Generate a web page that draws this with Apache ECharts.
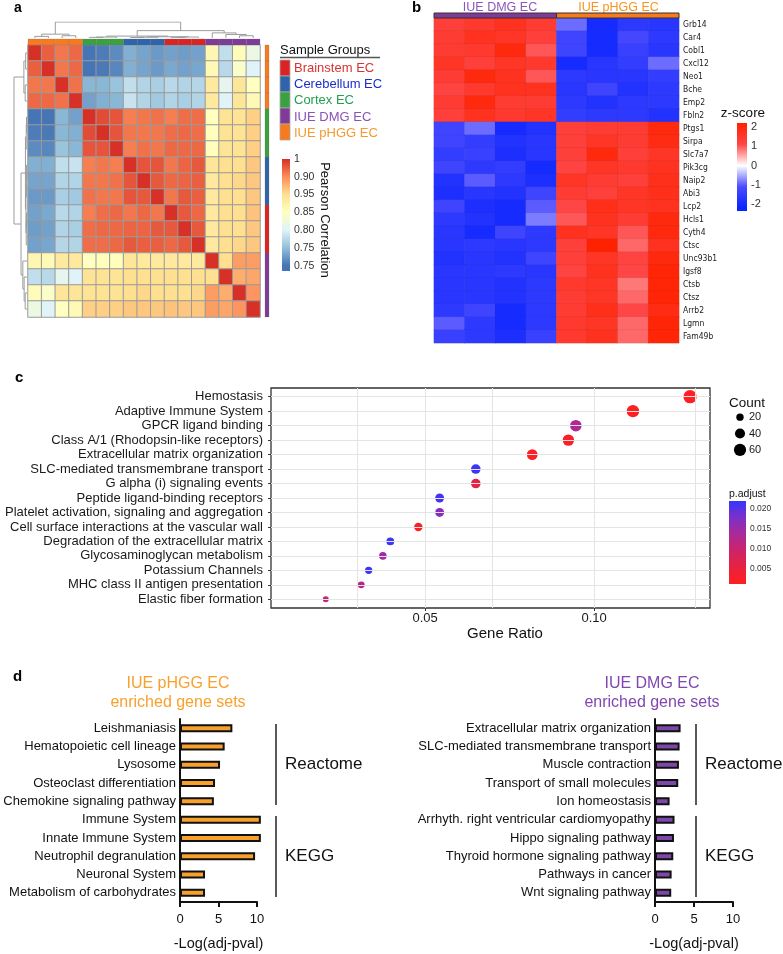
<!DOCTYPE html>
<html>
<head>
<meta charset="utf-8" />
<title>Endothelial cell profiles</title>
<script src="https://cdn.jsdelivr.net/npm/echarts@6.0.0/dist/echarts.min.js"></script>
<style>html, body { margin: 0; padding: 0; background: #fff; }</style>
</head>
<body>
<div id="main" style="width: 783px;height: 954px;"></div>
<script type="text/javascript">
const FONT = "'Liberation Sans', Arial, Helvetica, sans-serif";
const NARROW = "'Liberation Sans Narrow', 'DejaVu Sans Condensed', 'Liberation Sans', sans-serif";

// ---- panel a : sample correlation ----
const sampleGroup = [4, 4, 4, 4, 2, 2, 2, 1, 1, 1, 0, 0, 0, 3, 3, 3, 3];
const groupNames = ['Brainstem EC', 'Cerebellum EC', 'Cortex EC', 'IUE DMG EC', 'IUE pHGG EC'];
// upper triangle, row i starts at the diagonal
const corrUpper = [
    [1, 0.975, 0.962, 0.97, 0.70, 0.705, 0.715, 0.74, 0.732, 0.725, 0.73, 0.727, 0.73, 0.865, 0.78, 0.855, 0.82],
    [1, 0.962, 0.97, 0.70, 0.703, 0.712, 0.74, 0.732, 0.725, 0.735, 0.73, 0.733, 0.86, 0.775, 0.84, 0.80],
    [1, 0.965, 0.745, 0.745, 0.755, 0.78, 0.77, 0.765, 0.775, 0.77, 0.772, 0.885, 0.81, 0.89, 0.85],
    [1, 0.73, 0.74, 0.745, 0.785, 0.77, 0.76, 0.77, 0.765, 0.77, 0.885, 0.80, 0.89, 0.86],
    [1, 0.985, 0.98, 0.958, 0.962, 0.965, 0.958, 0.967, 0.967, 0.85, 0.895, 0.895, 0.91],
    [1, 0.98, 0.962, 0.962, 0.962, 0.967, 0.97, 0.967, 0.852, 0.895, 0.895, 0.91],
    [1, 0.958, 0.965, 0.962, 0.97, 0.97, 0.97, 0.852, 0.893, 0.895, 0.91],
    [1, 0.98, 0.98, 0.962, 0.972, 0.978, 0.89, 0.90, 0.90, 0.915],
    [1, 0.978, 0.97, 0.972, 0.975, 0.885, 0.90, 0.905, 0.915],
    [1, 0.962, 0.978, 0.975, 0.885, 0.90, 0.90, 0.915],
    [1, 0.978, 0.97, 0.885, 0.90, 0.90, 0.918],
    [1, 0.978, 0.885, 0.90, 0.90, 0.915],
    [1, 0.885, 0.90, 0.905, 0.915],
    [1, 0.90, 0.94, 0.94],
    [1, 0.93, 0.935],
    [1, 0.945],
    [1]
];
const corrTicks = [0.70, 0.75, 0.80, 0.85, 0.90, 0.95, 1.0];
const corrTickText = ['0.75', '0.75', '0.80', '0.85', '0.95', '0.90', '1'];
// [left, right, height], leaves are sample indices
const dendroTree = [
    [[0, 1, 0.10], [2, 3, 0.14], 0.24],
    [
        [[[4, 5, 0.04], 6, 0.06], [[[7, 8, 0.03], 9, 0.05], [[10, 11, 0.04], 12, 0.06], 0.08], 0.12],
        [13, [14, [15, 16, 0.14], 0.22], 0.32],
        0.46
    ],
    1.0
];

// ---- panel b : z-score heatmap ----
const bColumns = ['DMG1', 'DMG2', 'DMG3', 'DMG4', 'pHGG1', 'pHGG2', 'pHGG3', 'pHGG4'];
const geneNames = ['Grb14', 'Car4', 'Cobl1', 'Cxcl12', 'Neo1', 'Bche', 'Emp2', 'Fbln2', 'Ptgs1', 'Sirpa', 'Slc7a7', 'Pik3cg',
    'Naip2', 'Abi3', 'Lcp2', 'Hcls1', 'Cyth4', 'Ctsc', 'Unc93b1', 'Igsf8', 'Ctsb', 'Ctsz', 'Arrb2', 'Lgmn', 'Fam49b'];
const zScores = [
    [1.3, 1.5, 1.7, 1.4, -0.9, -2.0, -1.6, -1.7],
    [1.4, 1.7, 1.6, 1.3, -1.3, -2.0, -1.2, -1.6],
    [1.4, 1.5, 2.0, 1.0, -1.3, -2.0, -1.4, -1.7],
    [1.6, 1.3, 1.6, 1.5, -2.0, -1.7, -1.5, -0.9],
    [1.4, 2.0, 1.7, 1.0, -1.6, -1.7, -1.7, -1.5],
    [1.2, 1.5, 1.7, 1.7, -1.7, -1.3, -1.8, -1.6],
    [1.4, 2.0, 1.4, 1.4, -1.6, -1.8, -1.6, -1.6],
    [1.3, 1.7, 1.5, 1.6, -1.5, -1.6, -1.6, -1.8],
    [-1.3, -0.9, -2.0, -1.8, 1.3, 1.4, 1.4, 2.0],
    [-1.3, -1.5, -1.8, -1.7, 1.3, 1.6, 1.4, 1.9],
    [-1.5, -1.4, -1.9, -1.7, 1.3, 2.0, 1.3, 1.6],
    [-1.3, -1.6, -1.5, -2.0, 1.2, 1.6, 1.5, 1.7],
    [-1.8, -1.0, -1.6, -1.9, 1.6, 1.4, 1.3, 1.8],
    [-1.9, -1.7, -1.8, -1.3, 1.4, 1.3, 1.6, 1.8],
    [-1.3, -1.9, -2.0, -1.0, 1.1, 1.8, 1.6, 1.7],
    [-1.6, -1.8, -2.0, -0.8, 1.0, 1.7, 1.4, 2.0],
    [-1.7, -2.0, -1.3, -1.6, 1.7, 1.6, 1.0, 2.0],
    [-1.7, -1.6, -1.7, -1.6, 1.3, 2.2, 0.9, 1.7],
    [-1.8, -1.7, -1.8, -1.3, 1.3, 1.6, 1.2, 2.0],
    [-1.7, -1.7, -1.6, -1.7, 1.2, 1.7, 1.1, 2.1],
    [-1.7, -1.7, -1.8, -1.6, 1.5, 1.6, 0.8, 2.1],
    [-1.7, -1.7, -1.8, -1.6, 1.4, 1.6, 0.9, 2.1],
    [-1.6, -1.3, -2.0, -1.6, 1.4, 1.8, 1.1, 1.9],
    [-1.0, -1.6, -2.0, -1.6, 1.5, 1.6, 0.9, 2.1],
    [-1.4, -1.6, -1.9, -1.4, 1.5, 1.7, 0.9, 2.1]
];
const zTicks = [-2, -1, 0, 1, 2];

// ---- panel c : enrichment dot plot ----
const pathways = ['Hemostasis', 'Adaptive Immune System', 'GPCR ligand binding', 'Class A/1 (Rhodopsin-like receptors)',
    'Extracellular matrix organization', 'SLC-mediated transmembrane transport', 'G alpha (i) signaling events',
    'Peptide ligand-binding receptors', 'Platelet activation, signaling and aggregation',
    'Cell surface interactions at the vascular wall', 'Degradation of the extracellular matrix',
    'Glycosaminoglycan metabolism', 'Potassium Channels', 'MHC class II antigen presentation', 'Elastic fiber formation'];
const geneRatio = [0.1284, 0.1115, 0.0946, 0.0924, 0.0817, 0.0650, 0.0650, 0.0543, 0.0543, 0.0480, 0.0397, 0.0375, 0.0333, 0.0311, 0.0206];
const geneCount = [72, 62, 53, 52, 46, 36, 36, 30, 30, 27, 22, 21, 19, 17, 12];
const pAdjust = [0.0015, 0.0018, 0.0133, 0.0022, 0.0016, 0.0215, 0.0058, 0.0212, 0.0168, 0.0020, 0.0214, 0.0146, 0.0216, 0.0123, 0.0106];
const ratioTicks = [0.05, 0.10];
const ratioGrid = [0.025, 0.05, 0.075, 0.10, 0.125];
const padjTicks = [0.005, 0.010, 0.015, 0.020];
const countLevels = [20, 40, 60];

// ---- panel d : enriched gene sets ----
const pheggTerms = ['Leishmaniasis', 'Hematopoietic cell lineage', 'Lysosome', 'Osteoclast differentiation', 'Chemokine signaling pathway',
    'Immune System', 'Innate Immune System', 'Neutrophil degranulation', 'Neuronal System', 'Metabolism of carbohydrates'];
const pheggScore = [6.8, 5.8, 5.2, 4.55, 4.4, 10.5, 10.5, 9.75, 3.25, 3.25];
const dmgTerms = ['Extracellular matrix organization', 'SLC-mediated transmembrane transport', 'Muscle contraction',
    'Transport of small molecules', 'Ion homeostasis', 'Arrhyth. right ventricular cardiomyopathy', 'Hippo signaling pathway',
    'Thyroid hormone signaling pathway', 'Pathways in cancer', 'Wnt signaling pathway'];
const dmgScore = [3.28, 3.15, 3.07, 2.98, 1.87, 2.5, 2.43, 2.34, 2.13, 2.08];

// ---- styles ----
const groupColors = ['#dc2323', '#2f63aa', '#3ba03f', '#7e3b98', '#f77a1e'];
const groupTextColors = ['#d93232', '#1c2ccb', '#22a052', '#8b52b8', '#f59a30'];
const corrPalette = ['#4575b4', '#91bfdb', '#e0f3f8', '#ffffbf', '#fee090', '#fc8d59', '#d73027'];
const zPalette = ['#0a24ff', '#4b4bff', '#ffffff', '#ff4646', '#ff2200'];
const padjPalette = ['#ff2020', '#e8223e', '#cc2468', '#aa2a98', '#7c30c8', '#3535ff'];
const PHGG_ORANGE = '#f7a12c';
const DMG_PURPLE = '#7d46a9';

const myChart = echarts.init(document.getElementById('main'));

const corrAt = (i, j) => (i <= j ? corrUpper[i][j - i] : corrUpper[j][i - j]);
const corrData = [];
sampleGroup.forEach((g, i) => {
    sampleGroup.forEach((h, j) => corrData.push([j, i, corrAt(i, j)]));
});
const sampleIds = sampleGroup.map((g, i) => 'S' + (i + 1));

const zData = [];
zScores.forEach((row, r) => row.forEach((v, c) => zData.push([c, r, v])));

// dendrogram -> U shaped segments [pos, height]
function dendroSegments(node, out) {
    if (typeof node === 'number') return { pos: node, h: 0 };
    const l = dendroSegments(node[0], out);
    const r = dendroSegments(node[1], out);
    const h = node[2];
    out.push([[l.pos, l.h], [l.pos, h], [r.pos, h], [r.pos, r.h]]);
    return { pos: (l.pos + r.pos) / 2, h: h };
}
const dendroSegs = [];
dendroSegments(dendroTree, dendroSegs);

const countSize = (c) => Math.sqrt(7.8 + 2.35 * c);

function annoCell(params, api) {
    const c = api.coord([api.value(0), api.value(1)]);
    const s = api.size([1, 1]);
    return {
        type: 'rect',
        shape: { x: c[0] - s[0] / 2, y: c[1] - s[1] / 2, width: s[0], height: s[1] },
        style: { fill: groupColors[api.value(2)], stroke: 'rgba(110,110,110,0.45)', lineWidth: 0.5 }
    };
}
function spanCell(params, api) {
    const a = api.coord([api.value(0), 0]);
    const b = api.coord([api.value(2), 0]);
    const s = api.size([1, 1]);
    return {
        type: 'rect',
        shape: { x: a[0] - s[0] / 2, y: a[1] - s[1] / 2, width: b[0] - a[0] + s[0], height: s[1] },
        style: { fill: groupColors[api.value(3)], stroke: '#333', lineWidth: 1 }
    };
}
function gradientBar(stops) {
    return function (params, api) {
        const p0 = api.coord([api.value(0), api.value(1)]);
        const p1 = api.coord([api.value(2), api.value(3)]);
        return {
            type: 'rect',
            shape: { x: p0[0], y: p1[1], width: p1[0] - p0[0], height: p0[1] - p1[1] },
            style: { fill: new echarts.graphic.LinearGradient(0, 0, 0, 1, stops) }
        };
    };
}
// colour stops, top of bar = offset 0
const corrLo = 0.685, corrHi = 1.0;
const corrStops = corrPalette.map((c, k) => ({ offset: (corrHi - corrTicks[k]) / (corrHi - corrLo), color: c })).reverse();
corrStops.push({ offset: 1, color: corrPalette[0] });
const zLo = -2.36, zHi = 2.21, zVals = [-2.2, -1.1, 0, 1.1, 2.2];
const zStops = zPalette.map((c, k) => ({ offset: Math.min(1, Math.max(0, (zHi - zVals[k]) / (zHi - zLo))), color: c })).reverse();
const padjLo = 0.00125, padjHi = 0.022;
const padjStops = padjPalette.map((c, k) => ({ offset: 1 - k / (padjPalette.length - 1), color: c })).reverse();

const grid = (left, top, width, height, extra) => Object.assign({ left, top, width, height, outerBoundsMode: 'none', containLabel: false }, extra || {});
const hidden = (gridIndex, o) => Object.assign({ gridIndex, show: false }, o);
const noLine = { show: false, onZero: false };

const txt = (x, y, text, size, color, opt) => {
    opt = opt || {};
    const align = opt.align || 'left';
    return {
        type: 'text', x, y, silent: true, rotation: opt.rotation || 0,
        style: {
            text, fill: color, font: (opt.weight || 'normal') + ' ' + size + 'px ' + FONT,
            textAlign: align, textVerticalAlign: 'middle', align: align, verticalAlign: 'middle'
        }
    };
};
const seg = (x1, y1, x2, y2, color, w) => ({ type: 'line', silent: true, shape: { x1, y1, x2, y2 }, style: { stroke: color, lineWidth: w } });

const graphics = [
    txt(14, 8, 'a', 14, '#000', { weight: 'bold' }),
    txt(412, 8, 'b', 15, '#000', { weight: 'bold' }),
    txt(15, 378, 'c', 15, '#000', { weight: 'bold' }),
    txt(13, 677, 'd', 15, '#000', { weight: 'bold' }),
    txt(280, 50, 'Sample Groups', 13, '#111'),
    seg(280, 57.5, 380, 57.5, '#555', 1.5),
    txt(325, 220, 'Pearson Correlation', 13, '#111', { align: 'center', rotation: -Math.PI / 2 }),
    txt(500, 7.5, 'IUE DMG EC', 12.5, '#8a55c0', { align: 'center' }),
    txt(618.5, 7.5, 'IUE pHGG EC', 12.5, '#f7941e', { align: 'center' }),
    txt(743, 113, 'z-score', 13.5, '#111', { align: 'center' }),
    txt(729, 403, 'Count', 13.5, '#111'),
    txt(729, 494, 'p.adjust', 10.5, '#111'),
    txt(178, 684, 'IUE pHGG EC', 16, PHGG_ORANGE, { align: 'center' }),
    txt(178, 703, 'enriched gene sets', 16, PHGG_ORANGE, { align: 'center' }),
    txt(652, 684, 'IUE DMG EC', 16, '#8048b0', { align: 'center' }),
    txt(652, 703, 'enriched gene sets', 16, '#8048b0', { align: 'center' }),
    seg(276, 724, 276, 805, '#222', 1.5),
    seg(276, 816, 276, 897, '#222', 1.5),
    txt(285, 764, 'Reactome', 17, '#111'),
    txt(285, 856, 'KEGG', 17, '#111'),
    seg(696, 724, 696, 805, '#222', 1.5),
    seg(696, 816, 696, 897, '#222', 1.5),
    txt(705, 764, 'Reactome', 17, '#111'),
    txt(705, 856, 'KEGG', 17, '#111')
];
groupNames.forEach((name, k) => {
    graphics.push({ type: 'rect', silent: true, shape: { x: 280, y: 60 + 16 * k, width: 10, height: 16 },
        style: { fill: groupColors[k], stroke: '#aaa', lineWidth: 0.8 } });
    graphics.push(txt(294, 68 + 16.4 * k, name, 13, groupTextColors[k]));
});

const option = {
    animation: false,
    backgroundColor: '#fff',
    textStyle: { fontFamily: FONT },
    graphic: { elements: graphics },
    grid: [
        grid(28, 45, 232, 272),        // 0 correlation heatmap
        grid(28, 39, 232, 6),          // 1 top annotation
        grid(265, 45, 4, 272),         // 2 right annotation
        grid(28, 22, 232, 16),         // 3 top dendrogram
        grid(14, 45, 13, 272),         // 4 left dendrogram
        grid(282, 159, 8, 112),        // 5 correlation colour bar
        grid(434, 18, 245, 325),       // 6 z-score heatmap
        grid(434, 13, 245, 5),         // 7 heatmap b top bar
        grid(737, 123, 10, 88),        // 8 z-score colour bar
        grid(271, 388, 439, 220, { show: true, borderColor: '#333', borderWidth: 1.3, backgroundColor: 'transparent' }), // 9 dot plot
        grid(735, 409, 10, 49),        // 10 count legend
        grid(729, 501, 17, 83),        // 11 p.adjust bar
        grid(180, 719, 77, 183),       // 12 pHGG bars
        grid(655, 719, 78, 183)        // 13 DMG bars
    ],
    xAxis: [
        hidden(0, { type: 'category', data: sampleIds }),
        hidden(1, { type: 'category', data: sampleIds }),
        hidden(2, { type: 'category', data: ['r'] }),
        hidden(3, { type: 'value', min: -0.5, max: 16.5 }),
        hidden(4, { type: 'value', min: 0, max: 1, inverse: true }),
        hidden(5, { type: 'value', min: 0, max: 1 }),
        hidden(6, { type: 'category', data: bColumns }),
        hidden(7, { type: 'category', data: bColumns }),
        hidden(8, { type: 'value', min: 0, max: 1 }),
        {
            gridIndex: 9, type: 'value', min: 0.0044, max: 0.1343,
            axisLine: noLine,
            axisTick: { show: true, customValues: ratioTicks, length: 3, lineStyle: { color: '#333' } },
            axisLabel: { customValues: ratioTicks, formatter: (v) => v.toFixed(2), fontSize: 13, color: '#1a1a1a', margin: 4 },
            splitLine: { show: false },
            name: 'Gene Ratio', nameLocation: 'middle', nameGap: 14,
            nameTextStyle: { fontSize: 15, color: '#111', padding: [0, 0, 0, 29] }
        },
        hidden(10, { type: 'value', min: 0, max: 1 }),
        hidden(11, { type: 'value', min: 0, max: 1 }),
        {
            gridIndex: 12, type: 'value', min: 0, max: 10, interval: 5,
            axisLine: { show: true, onZero: false, lineStyle: { color: '#111', width: 2 } },
            axisTick: { show: true, length: 5, lineStyle: { color: '#111', width: 2 } },
            axisLabel: { fontSize: 13, color: '#111', margin: 11 },
            splitLine: { show: false },
            name: '-Log(adj-pval)', nameLocation: 'middle', nameGap: 34,
            nameTextStyle: { fontSize: 14.5, color: '#111' }
        },
        {
            gridIndex: 13, type: 'value', min: 0, max: 10, interval: 5,
            axisLine: { show: true, onZero: false, lineStyle: { color: '#111', width: 2 } },
            axisTick: { show: true, length: 5, lineStyle: { color: '#111', width: 2 } },
            axisLabel: { fontSize: 13, color: '#111', margin: 11 },
            splitLine: { show: false },
            name: '-Log(adj-pval)', nameLocation: 'middle', nameGap: 34,
            nameTextStyle: { fontSize: 14.5, color: '#111' }
        }
    ],
    yAxis: [
        hidden(0, { type: 'category', data: sampleIds, inverse: true }),
        hidden(1, { type: 'category', data: ['t'] }),
        hidden(2, { type: 'category', data: sampleIds, inverse: true }),
        hidden(3, { type: 'value', min: 0, max: 1 }),
        hidden(4, { type: 'value', min: -0.5, max: 16.5, inverse: true }),
        {
            gridIndex: 5, type: 'value', min: corrLo, max: corrHi, position: 'right',
            axisLine: noLine, axisTick: { show: false }, splitLine: { show: false },
            axisLabel: {
                customValues: corrTicks, fontSize: 10.5, color: '#333', margin: 4,
                formatter: (v) => corrTickText[Math.round((v - 0.70) / 0.05)]
            }
        },
        {
            gridIndex: 6, type: 'category', data: geneNames, inverse: true, position: 'right',
            axisLine: noLine, axisTick: { show: false },
            axisLabel: { interval: 0, fontSize: 8.5, fontFamily: NARROW, color: '#222', margin: 4 }
        },
        hidden(7, { type: 'category', data: ['t'] }),
        {
            gridIndex: 8, type: 'value', min: zLo, max: zHi, position: 'right',
            axisLine: noLine, axisTick: { show: false }, splitLine: { show: false },
            axisLabel: { customValues: zTicks, fontSize: 11, color: '#333', margin: 4, formatter: (v) => String(v) }
        },
        {
            gridIndex: 9, type: 'value', inverse: true, min: -0.6, max: 14.6,
            axisLine: noLine,
            axisTick: { show: true, customValues: pathways.map((p, i) => i), length: 3, lineStyle: { color: '#333' } },
            axisLabel: { customValues: pathways.map((p, i) => i), formatter: (v) => pathways[Math.round(v)], fontSize: 13, color: '#1a1a1a', margin: 8 },
            splitLine: { show: false }
        },
        {
            gridIndex: 10, type: 'category', data: countLevels.map(String), inverse: true, position: 'right',
            axisLine: noLine, axisTick: { show: false },
            axisLabel: { fontSize: 11, color: '#1a1a1a', margin: 4 }
        },
        {
            gridIndex: 11, type: 'value', min: padjLo, max: padjHi, position: 'right',
            axisLine: noLine, axisTick: { show: false }, splitLine: { show: false },
            axisLabel: { customValues: padjTicks, fontSize: 8.5, color: '#333', margin: 4, formatter: (v) => v.toFixed(3) }
        },
        {
            gridIndex: 12, type: 'category', data: pheggTerms, inverse: true,
            axisLine: { show: true, onZero: false, lineStyle: { color: '#111', width: 2 } }, axisTick: { show: false },
            axisLabel: { interval: 0, fontSize: 13, color: '#111', margin: 4 }
        },
        {
            gridIndex: 13, type: 'category', data: dmgTerms, inverse: true,
            axisLine: { show: true, onZero: false, lineStyle: { color: '#111', width: 2 } }, axisTick: { show: false },
            axisLabel: { interval: 0, fontSize: 13, color: '#111', margin: 4 }
        }
    ],
    visualMap: [
        { type: 'continuous', show: false, seriesIndex: 0, dimension: 2, min: 0.70, max: 1.0, inRange: { color: corrPalette } },
        { type: 'continuous', show: false, seriesIndex: 6, dimension: 2, min: -2.2, max: 2.2, inRange: { color: zPalette } },
        { type: 'continuous', show: false, seriesIndex: 10, dimension: 3, min: padjLo, max: padjHi, inRange: { color: padjPalette } }
    ],
    series: [
        {   // 0
            type: 'heatmap', xAxisIndex: 0, yAxisIndex: 0, data: corrData,
            itemStyle: { borderColor: '#9a9a9a', borderWidth: 1 }, emphasis: { disabled: true }
        },
        {   // 1
            type: 'custom', xAxisIndex: 1, yAxisIndex: 1, renderItem: annoCell,
            data: sampleGroup.map((g, i) => [i, 0, g])
        },
        {   // 2
            type: 'custom', xAxisIndex: 2, yAxisIndex: 2, renderItem: annoCell,
            data: sampleGroup.map((g, i) => [0, i, g])
        },
        {   // 3
            type: 'lines', coordinateSystem: 'cartesian2d', xAxisIndex: 3, yAxisIndex: 3, polyline: true, silent: true,
            lineStyle: { color: '#9c9c9c', width: 1, opacity: 1 },
            data: dendroSegs.map((s) => ({ coords: s }))
        },
        {   // 4
            type: 'lines', coordinateSystem: 'cartesian2d', xAxisIndex: 4, yAxisIndex: 4, polyline: true, silent: true,
            lineStyle: { color: '#9c9c9c', width: 1, opacity: 1 },
            data: dendroSegs.map((s) => ({ coords: s.map((p) => [p[1], p[0]]) }))
        },
        {   // 5
            type: 'custom', xAxisIndex: 5, yAxisIndex: 5, silent: true, renderItem: gradientBar(corrStops),
            data: [[0, corrLo, 1, corrHi]]
        },
        {   // 6
            type: 'heatmap', xAxisIndex: 6, yAxisIndex: 6, data: zData,
            itemStyle: { borderColor: 'rgba(60,60,60,0.15)', borderWidth: 0.5 }, emphasis: { disabled: true }
        },
        {   // 7
            type: 'custom', xAxisIndex: 7, yAxisIndex: 7, renderItem: spanCell,
            data: [[0, 0, 3, 3], [4, 0, 7, 4]]
        },
        {   // 8
            type: 'custom', xAxisIndex: 8, yAxisIndex: 8, silent: true, renderItem: gradientBar(zStops),
            data: [[0, zLo, 1, zHi]]
        },
        {   // 9 grid lines
            type: 'scatter', xAxisIndex: 9, yAxisIndex: 9, data: [], silent: true, z: 1,
            markLine: {
                silent: true, symbol: ['none', 'none'], label: { show: false }, animation: false,
                lineStyle: { color: '#e4e4e4', width: 1, type: 'solid' },
                emphasis: { disabled: true },
                data: ratioGrid.map((v) => ({ xAxis: v })).concat(pathways.map((p, i) => ({ yAxis: i })))
            }
        },
        {   // 10
            type: 'scatter', xAxisIndex: 9, yAxisIndex: 9, z: 3, emphasis: { disabled: true },
            itemStyle: { opacity: 1 },
            symbolSize: (val) => countSize(val[2]),
            data: pathways.map((p, i) => [geneRatio[i], i, geneCount[i], pAdjust[i]])
        },
        {   // 11
            type: 'scatter', xAxisIndex: 10, yAxisIndex: 10, silent: true, itemStyle: { color: '#000', opacity: 1 },
            symbolSize: (val) => countSize(val[2]),
            data: countLevels.map((c, i) => [0.5, i, c])
        },
        {   // 12
            type: 'custom', xAxisIndex: 11, yAxisIndex: 11, silent: true, renderItem: gradientBar(padjStops),
            data: [[0, padjLo, 1, padjHi]]
        },
        {   // 13
            type: 'bar', xAxisIndex: 12, yAxisIndex: 12, data: pheggScore, barWidth: 8, clip: false,
            itemStyle: { color: PHGG_ORANGE, borderColor: '#111', borderWidth: 2 }, emphasis: { disabled: true }
        },
        {   // 14
            type: 'bar', xAxisIndex: 13, yAxisIndex: 13, data: dmgScore, barWidth: 8, clip: false,
            itemStyle: { color: DMG_PURPLE, borderColor: '#111', borderWidth: 2 }, emphasis: { disabled: true }
        }
    ]
};
myChart.setOption(option);
</script>
</body>
</html>
